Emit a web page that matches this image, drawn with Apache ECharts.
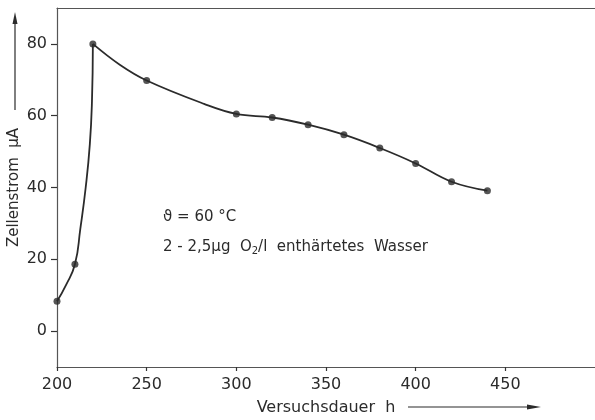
<!DOCTYPE html>
<html>
<head>
<meta charset="utf-8">
<script src="https://cdn.jsdelivr.net/npm/echarts@6/dist/echarts.min.js"></script>
<style>
html, body { margin: 0; padding: 0; background: #fff; }
#chart { width: 595px; height: 420px; }
</style>
</head>
<body>
<div id="chart"></div>
<script>
// measured points (Versuchsdauer h, Zellenstrom uA)
var hours = [200, 210, 220, 250, 300, 320, 340, 360, 380, 400, 420, 440];
var current = [8.3, 18.6, 80, 69.8, 60.5, 59.5, 57.5, 54.7, 51, 46.7, 41.6, 39.1];
// the steep rise up to 220 h
var riseHours = [200, 205, 210, 213, 216, 218.3, 219.5, 220];
var riseCurrent = [8.3, 12.8, 18.6, 28.5, 40, 52, 64, 80];
// the slow decay after 220 h
var decayHours = [220, 235, 250, 282, 300, 320, 340, 360, 380, 400, 420, 440];
var decayCurrent = [80, 74.2, 69.8, 63.3, 60.5, 59.5, 57.5, 54.7, 51, 46.7, 41.6, 39.1];
var xTicks = [200, 250, 300, 350, 400, 450];
var yTicks = [0, 20, 40, 60, 80];

var INK = '#2b2b2b';
var FONT = 'DejaVu Sans';

function pairs(xs, ys) {
    var out = [];
    for (var i = 0; i < xs.length; i++) {
        out.push([xs[i], ys[i]]);
    }
    return out;
}

var option = {
    animation: false,
    backgroundColor: '#fff',
    textStyle: { fontFamily: FONT, color: INK },
    grid: { left: 57, right: 0, top: 8, bottom: 53, containLabel: false, outerBoundsMode: 'none' },
    xAxis: [
        {
            type: 'value',
            min: 200,
            max: 500,
            name: 'Versuchsdauer  h',
            nameLocation: 'middle',
            nameGap: 33,
            nameMoveOverlap: false,
            nameTextStyle: { fontSize: 16, color: INK, fontFamily: FONT },
            axisLine: { onZero: false, lineStyle: { color: '#555', width: 1.2 } },
            axisTick: { show: true, customValues: xTicks, length: 4, lineStyle: { color: '#333', width: 1.2 } },
            axisLabel: { customValues: xTicks, fontSize: 16, color: INK, margin: 10, fontFamily: FONT },
            splitLine: { show: false }
        },
        {
            type: 'value',
            position: 'top',
            min: 200,
            max: 500,
            axisLine: { show: true, onZero: false, lineStyle: { color: '#555', width: 1.2 } },
            axisTick: { show: false },
            axisLabel: { show: false },
            splitLine: { show: false }
        }
    ],
    yAxis: {
        type: 'value',
        min: -10,
        max: 90,
        name: 'Zellenstrom  µA',
        nameLocation: 'middle',
        nameRotate: 90,
        nameGap: 35,
        nameMoveOverlap: false,
        nameTextStyle: { fontSize: 15, color: INK, fontFamily: FONT },
        axisLine: { show: true, onZero: false, lineStyle: { color: '#555', width: 1.2 } },
        axisTick: { show: true, customValues: yTicks, length: 6, lineStyle: { color: '#333', width: 1.2 } },
        axisLabel: { customValues: yTicks, fontSize: 16, color: INK, margin: 10, fontFamily: FONT },
        splitLine: { show: false }
    },
    graphic: [
        // axis arrows
        { type: 'line', shape: { x1: 15, y1: 110, x2: 15, y2: 22 }, style: { stroke: INK, lineWidth: 1.2 } },
        { type: 'polygon', shape: { points: [[15, 12], [12.5, 24], [17.5, 24]] }, style: { fill: INK } },
        { type: 'line', shape: { x1: 408, y1: 407, x2: 530, y2: 407 }, style: { stroke: INK, lineWidth: 1.2 } },
        { type: 'polygon', shape: { points: [[541, 407], [527, 404.5], [527, 409.5]] }, style: { fill: INK } },
        // annotations
        {
            type: 'text', left: 163, top: 210,
            style: { text: 'ϑ = 60 °C', font: '15px "DejaVu Sans"', fill: INK }
        },
        {
            type: 'text', left: 163, top: 240,
            style: {
                text: '{a|2 - 2,5µg  O}{s|2}{a|/l  enthärtetes  Wasser}',
                fill: INK,
                rich: {
                    a: { fontSize: 15, fontFamily: FONT, fill: INK },
                    s: { fontSize: 10, fontFamily: FONT, fill: INK, verticalAlign: 'bottom', padding: [8, 0, 0, 0] }
                }
            }
        }
    ],
    series: [
        {
            type: 'line',
            data: pairs(riseHours, riseCurrent),
            smooth: 0.5,
            showSymbol: false,
            lineStyle: { color: INK, width: 1.8 },
            z: 2
        },
        {
            type: 'line',
            data: pairs(decayHours, decayCurrent),
            smooth: 0.4,
            showSymbol: false,
            lineStyle: { color: INK, width: 1.8 },
            z: 2
        },
        {
            type: 'scatter',
            data: pairs(hours, current),
            symbol: 'circle',
            symbolSize: 7,
            itemStyle: { color: INK },
            z: 3
        }
    ]
};

var myChart = echarts.init(document.getElementById('chart'));
myChart.setOption(option);
</script>
</body>
</html>
